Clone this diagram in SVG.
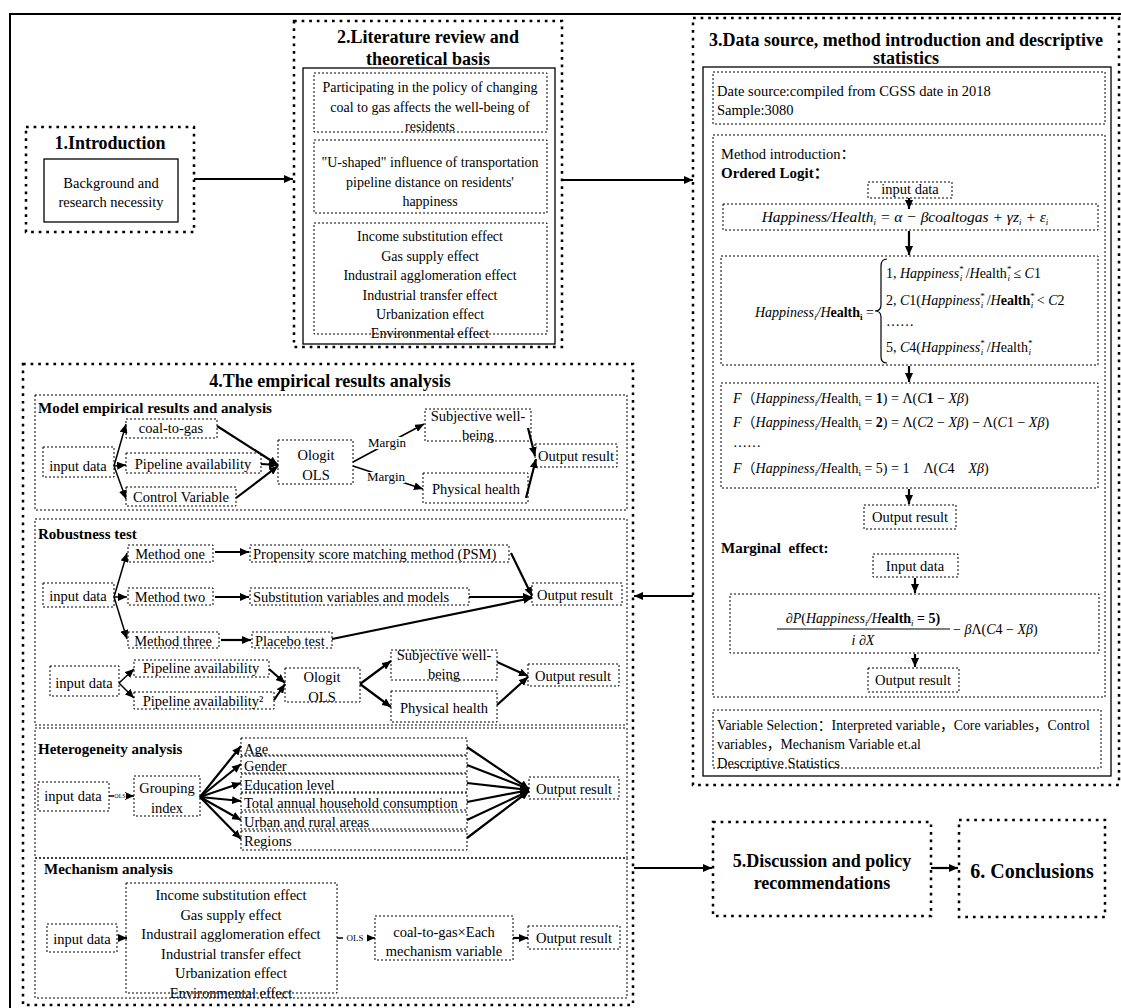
<svg xmlns="http://www.w3.org/2000/svg" width="1121" height="1008" viewBox="0 0 1121 1008">
<defs>
<style>
.sec{fill:none;stroke:#000;stroke-width:2.5;stroke-dasharray:2.7 4.9}
.box{fill:none;stroke:#000;stroke-width:1.3}
.dot{fill:none;stroke:#000;stroke-width:1;stroke-dasharray:2 2}
text{font-family:"Liberation Serif","Times New Roman","Noto Sans CJK SC",serif;font-size:14.5px;fill:#000}
.c{text-anchor:middle}
.e{text-anchor:end}
.h{font-weight:bold;font-size:18px}
.hs{font-weight:bold;font-size:15px}
.s2{font-size:14px}
.i{font-style:italic}
.b{font-weight:bold}
.sm{font-size:9px}
.mg{font-size:13px}
.ar{fill:none;stroke:#000;stroke-width:1.5;marker-end:url(#ah)}
.ab{stroke-width:2.2}
.bg{fill:#fff}
</style>
<marker id="ah" markerUnits="userSpaceOnUse" markerWidth="9" markerHeight="8" refX="9" refY="4" orient="auto"><path d="M0,0 L9,4 L0,8 z" fill="#000"/></marker>
</defs>
<rect width="1121" height="1008" fill="#fff"/>
<path id="frame" d="M10,1012 V14 H1125" fill="none" stroke="#000" stroke-width="2"/>

<g id="sec1">
<rect class="sec" x="26" y="127" width="168" height="105"/>
<text class="h c" x="110" y="149">1.Introduction</text>
<rect class="box" x="44" y="159" width="134" height="63"/>
<text class="c" x="111" y="188">Background and</text>
<text class="c" x="111" y="207">research necessity</text>
</g>

<g id="sec2">
<rect class="sec" x="294" y="21" width="268" height="326"/>
<text class="h c" x="428" y="43">2.Literature review and</text>
<text class="h c" x="428" y="65">theoretical basis</text>
<rect class="box" x="303" y="68" width="252" height="276"/>
<g id="lit-a">
<rect class="dot" x="314" y="73" width="233" height="59"/>
<text class="c s2" x="430" y="92">Participating in the policy of changing</text>
<text class="c s2" x="430" y="112">coal to gas affects the well-being of</text>
<text class="c s2" x="430" y="131">residents</text>
</g>
<g id="lit-b">
<rect class="dot" x="314" y="140" width="233" height="73"/>
<text class="c s2" x="430" y="167">"U-shaped" influence of transportation</text>
<text class="c s2" x="430" y="187">pipeline distance on residents'</text>
<text class="c s2" x="430" y="206">happiness</text>
</g>
<g id="lit-c">
<rect class="dot" x="314" y="223" width="233" height="111"/>
<text class="c s2" x="430" y="241">Income substitution effect</text>
<text class="c s2" x="430" y="261">Gas supply effect</text>
<text class="c s2" x="430" y="280">Industrail agglomeration effect</text>
<text class="c s2" x="430" y="300">Industrial transfer effect</text>
<text class="c s2" x="430" y="319">Urbanization effect</text>
<text class="c s2" x="430" y="338">Environmental effect</text>
</g>
</g>

<g id="sec3">
<rect class="sec" x="693" y="18" width="426" height="767"/>
<text class="h c" x="906" y="46">3.Data source, method introduction and descriptive</text>
<text class="h c" x="906" y="64">statistics</text>
<rect class="box" x="703" y="67" width="408" height="709"/>
<g id="data-source">
<rect class="dot" x="713" y="72" width="392" height="52"/>
<text x="717" y="96">Date source:compiled from CGSS date in 2018</text>
<text x="717" y="115">Sample:3080</text>
</g>
<g id="method">
<rect class="dot" x="713" y="135" width="392" height="562"/>
<text x="721" y="159">Method introduction：</text>
<text class="hs" x="721" y="178">Ordered Logit：</text>
<g id="ol-input"><rect class="dot" x="868" y="182" width="84" height="16"/><text class="c" x="910" y="194">input data</text></g>
<g id="ol-f1"><rect class="dot" x="723" y="204" width="375" height="26"/>
<text class="c i" x="905" y="222" style="font-size:15.5px">Happiness/Health<tspan class="sm" dy="3">i</tspan><tspan dy="-3"> = α − βcoaltogas + γz</tspan><tspan class="sm" dy="3">i</tspan><tspan dy="-3"> + ε</tspan><tspan class="sm" dy="3">i</tspan></text>
</g>
<g id="ol-f2"><rect class="dot" x="721" y="256" width="377" height="109"/>
<text class="e s2" x="874" y="317"><tspan class="i">Happiness</tspan><tspan class="sm i" dy="3">i</tspan><tspan class="i" dy="-3">/H</tspan><tspan class="b">ealth</tspan><tspan class="sm b" dy="3">i</tspan><tspan dy="-3"> =</tspan></text>
<path d="M887,259 Q881,259 881,266 L881,305 Q881,311 875,311 Q881,311 881,317 L881,357 Q881,363 887,363" fill="none" stroke="#000" stroke-width="1.2"/>
<text class="s2" x="886" y="278">1, <tspan class="i">Happiness</tspan><tspan class="sm" dy="-6">*</tspan><tspan class="sm i" dx="-4" dy="9">i</tspan><tspan dy="-3"> /</tspan><tspan class="i">H</tspan>ealth<tspan class="sm" dy="-6">*</tspan><tspan class="sm i" dx="-4" dy="9">i</tspan><tspan dy="-3"> ≤ </tspan><tspan class="i">C</tspan>1</text>
<text class="s2" x="886" y="305">2, <tspan class="i">C</tspan>1(<tspan class="i">Happiness</tspan><tspan class="sm" dy="-6">*</tspan><tspan class="sm i" dx="-4" dy="9">i</tspan><tspan dy="-3"> /</tspan><tspan class="i">H</tspan><tspan class="b">ealth</tspan><tspan class="sm" dy="-6">*</tspan><tspan class="sm i" dx="-4" dy="9">i</tspan><tspan dy="-3"> &lt; </tspan><tspan class="i">C</tspan>2</text>
<text class="s2" x="886" y="326">……</text>
<text class="s2" x="886" y="352">5, <tspan class="i">C</tspan>4(<tspan class="i">Happiness</tspan><tspan class="sm" dy="-6">*</tspan><tspan class="sm i" dx="-4" dy="9">i</tspan><tspan dy="-3"> /</tspan><tspan class="i">H</tspan>ealth<tspan class="sm" dy="-6">*</tspan><tspan class="sm i" dx="-4" dy="9">i</tspan></text>
</g>
<g id="ol-f3"><rect class="dot" x="721" y="383" width="377" height="105"/>
<text class="s2" x="733" y="403"><tspan class="i">F</tspan>（<tspan class="i">Happiness</tspan><tspan class="sm i" dy="3">i</tspan><tspan class="i" dy="-3">/H</tspan>ealth<tspan class="sm" dy="3">i</tspan><tspan dy="-3"> = </tspan><tspan class="b">1</tspan>) = Λ(<tspan class="i">C</tspan><tspan class="b">1</tspan> − <tspan class="i">Xβ</tspan>)</text>
<text class="s2" x="733" y="427"><tspan class="i">F</tspan>（<tspan class="i">Happiness</tspan><tspan class="sm i" dy="3">i</tspan><tspan class="i" dy="-3">/H</tspan>ealth<tspan class="sm" dy="3">i</tspan><tspan dy="-3"> = </tspan><tspan class="b">2</tspan>) = Λ(<tspan class="i">C</tspan>2 − <tspan class="i">Xβ</tspan>) − Λ(<tspan class="i">C</tspan>1 − <tspan class="i">Xβ</tspan>)</text>
<text class="s2" x="733" y="447">……</text>
<text class="s2" x="733" y="473"><tspan class="i">F</tspan>（<tspan class="i">Happiness</tspan><tspan class="sm i" dy="3">i</tspan><tspan class="i" dy="-3">/H</tspan>ealth<tspan class="sm" dy="3">i</tspan><tspan dy="-3"> = 5) = 1&#160;&#160;&#160;&#160;Λ(</tspan><tspan class="i">C</tspan>4&#160;&#160;&#160;&#160;<tspan class="i">Xβ</tspan>)</text>
</g>
<g id="ol-out"><rect class="dot" x="864" y="505" width="92" height="24"/><text class="c" x="910" y="522">Output result</text></g>
<text class="hs" x="721" y="553">Marginal&#160;&#160;effect:</text>
<g id="me-input"><rect class="dot" x="873" y="554" width="85" height="23"/><text class="c" x="915" y="571">Input data</text></g>
<g id="me-f"><rect class="dot" x="730" y="594" width="369" height="59"/>
<text class="c s2" x="863" y="623">∂<tspan class="i">P</tspan>(<tspan class="i">Happiness</tspan><tspan class="sm i" dy="3">i</tspan><tspan class="i" dy="-3">/H</tspan><tspan class="b">ealth</tspan><tspan class="sm i" dy="3">i</tspan><tspan dy="-3" class="b"> = 5)</tspan></text>
<line x1="777" y1="629" x2="950" y2="629" stroke="#000" stroke-width="1.2"/>
<text class="c s2 i" x="863" y="645">i ∂X</text>
<text class="s2" x="953" y="634">− <tspan class="i">β</tspan>Λ(<tspan class="i">C</tspan>4 − <tspan class="i">Xβ</tspan>)</text>
</g>
<g id="me-out"><rect class="dot" x="868" y="668" width="91" height="24"/><text class="c" x="913" y="685">Output result</text></g>
</g>
<g id="variables">
<rect class="dot" x="713" y="710" width="388" height="58"/>
<text x="717" y="730" style="font-size:13.8px">Variable Selection：Interpreted variable，Core variables，Control</text>
<text x="717" y="749" style="font-size:13.8px">variables，Mechanism Variable et.al</text>
<text x="717" y="768">Descriptive Statistics</text>
</g>
</g>

<g id="sec4">
<rect class="sec" x="23" y="364" width="610" height="641"/>
<text class="h c" x="330" y="387">4.The empirical results analysis</text>
<g id="model">
<rect class="dot" x="35" y="395" width="592" height="115"/>
<text class="hs" x="38" y="413">Model empirical results and analysis</text>
<g id="m-input"><rect class="dot" x="43" y="447" width="71" height="30"/><text class="c" x="78" y="471">input data</text></g>
<g id="m-coal"><rect class="dot" x="126" y="419" width="91" height="19"/><text class="c" x="171" y="433">coal-to-gas</text></g>
<g id="m-pipe"><rect class="dot" x="126" y="453" width="135" height="20"/><text class="c" x="193" y="469">Pipeline availability</text></g>
<g id="m-ctrl"><rect class="dot" x="126" y="487" width="110" height="19"/><text class="c" x="181" y="502">Control Variable</text></g>
<g id="m-ologit"><rect class="dot" x="278" y="440" width="75" height="44"/><text class="c" x="316" y="460">Ologit</text><text class="c" x="316" y="480">OLS</text></g>
<g id="m-swb"><rect class="dot" x="425" y="409" width="106" height="32"/><text class="c" x="478" y="421">Subjective well-</text><text class="c" x="478" y="440">being</text></g>
<g id="m-ph"><rect class="dot" x="423" y="473" width="105" height="30"/><text class="c" x="476" y="494">Physical health</text></g>
<g id="m-out"><rect class="dot" x="535" y="444" width="82" height="23"/><text class="c" x="576" y="461">Output result</text></g>
</g>
<g id="robust">
<rect class="dot" x="35" y="519" width="592" height="206"/>
<text class="hs" x="38" y="539">Robustness test</text>
<g id="r-input"><rect class="dot" x="43" y="583" width="71" height="24"/><text class="c" x="78" y="601">input data</text></g>
<g id="r-m1"><rect class="dot" x="128" y="545" width="85" height="17"/><text class="c" x="170" y="559">Method one</text></g>
<g id="r-m2"><rect class="dot" x="128" y="588" width="85" height="17"/><text class="c" x="170" y="602">Method two</text></g>
<g id="r-m3"><rect class="dot" x="128" y="632" width="91" height="16"/><text class="c" x="173" y="646">Method three</text></g>
<g id="r-psm"><rect class="dot" x="250" y="545" width="259" height="17"/><text x="253" y="559">Propensity score matching method (PSM)</text></g>
<g id="r-sub"><rect class="dot" x="250" y="588" width="219" height="17"/><text x="253" y="602">Substitution variables and models</text></g>
<g id="r-placebo"><rect class="dot" x="252" y="632" width="80" height="16"/><text x="255" y="646">Placebo test</text></g>
<g id="r-out"><rect class="dot" x="532" y="583" width="90" height="22"/><text class="c" x="575" y="600">Output result</text></g>
<g id="r-input2"><rect class="dot" x="50" y="666" width="69" height="30"/><text class="c" x="84" y="688">input data</text></g>
<g id="r-pipe"><rect class="dot" x="134" y="660" width="135" height="17"/><text class="c" x="201" y="673">Pipeline availability</text></g>
<g id="r-pipe2"><rect class="dot" x="134" y="692" width="140" height="17"/><text class="c" x="203" y="706">Pipeline availability²</text></g>
<g id="r-ologit"><rect class="dot" x="285" y="668" width="75" height="34"/><text class="c" x="322" y="682">Ologit</text><text class="c" x="322" y="702">OLS</text></g>
<g id="r-swb"><rect class="dot" x="391" y="650" width="106" height="30"/><text class="c" x="444" y="660">Subjective well-</text><text class="c" x="444" y="679">being</text></g>
<g id="r-ph"><rect class="dot" x="391" y="691" width="106" height="31"/><text class="c" x="444" y="713">Physical health</text></g>
<g id="r-out2"><rect class="dot" x="528" y="664" width="91" height="22"/><text class="c" x="573" y="681">Output result</text></g>
</g>
<g id="hetero">
<rect class="dot" x="35" y="728" width="592" height="130"/>
<text class="hs" x="38" y="754">Heterogeneity analysis</text>
<g id="h-input"><rect class="dot" x="38" y="782" width="71" height="29"/><text class="c" x="73" y="801">input data</text></g>
<g id="h-group"><rect class="dot" x="134" y="776" width="66" height="40"/><text class="c" x="167" y="793">Grouping</text><text class="c" x="167" y="813">index</text></g>
<g id="h-age"><rect class="dot" x="241" y="738" width="226" height="17"/><text x="244" y="754">Age</text></g>
<g id="h-gender"><rect class="dot" x="241" y="756" width="226" height="17"/><text x="244" y="771">Gender</text></g>
<g id="h-edu"><rect class="dot" x="241" y="774" width="226" height="18"/><text x="244" y="790">Education level</text></g>
<g id="h-total"><rect class="dot" x="241" y="793" width="226" height="17"/><text x="244" y="808">Total annual household consumption</text></g>
<g id="h-urban"><rect class="dot" x="241" y="812" width="226" height="17"/><text x="244" y="827">Urban and rural areas</text></g>
<g id="h-region"><rect class="dot" x="241" y="831" width="226" height="19"/><text x="244" y="846">Regions</text></g>
<g id="h-out"><rect class="dot" x="529" y="777" width="90" height="22"/><text class="c" x="574" y="794">Output result</text></g>
</g>
<g id="mech">
<rect class="dot" x="35" y="858" width="592" height="140"/>
<text class="hs" x="44" y="874">Mechanism analysis</text>
<g id="k-input"><rect class="dot" x="47" y="924" width="70" height="28"/><text class="c" x="82" y="944">input data</text></g>
<g id="k-effects"><rect class="dot" x="126" y="883" width="211" height="110"/>
<text class="c" x="231" y="900">Income substitution effect</text>
<text class="c" x="231" y="920">Gas supply effect</text>
<text class="c" x="231" y="939">Industrail agglomeration effect</text>
<text class="c" x="231" y="959">Industrial transfer effect</text>
<text class="c" x="231" y="978">Urbanization effect</text>
<text class="c" x="231" y="998">Environmental effect</text></g>
<g id="k-inter"><rect class="dot" x="375" y="916" width="138" height="44"/><text class="c" x="444" y="937">coal-to-gas×Each</text><text class="c" x="444" y="956">mechanism variable</text></g>
<g id="k-out"><rect class="dot" x="528" y="926" width="92" height="23"/><text class="c" x="574" y="943">Output result</text></g>
</g>
</g>

<g id="sec5">
<rect class="sec" x="713" y="822" width="218" height="94"/>
<text class="h c" x="822" y="867">5.Discussion and policy</text>
<text class="h c" x="822" y="889">recommendations</text>
</g>
<g id="sec6">
<rect class="sec" x="959" y="820" width="146" height="97"/>
<text class="h c" x="1032" y="878" style="font-size:20px">6. Conclusions</text>
</g>

<g id="connectors">
<line class="ar ab" x1="194" y1="179" x2="293" y2="179"/>
<line class="ar ab" x1="562" y1="180" x2="693" y2="180"/>
<line class="ar ab" x1="693" y1="596" x2="634" y2="596"/>
<line class="ar ab" x1="634" y1="868" x2="712" y2="868"/>
<line class="ar ab" x1="931" y1="868" x2="958" y2="868"/>
<line class="ar ab" x1="909" y1="198" x2="909" y2="209"/>
<line class="ar ab" x1="909" y1="231" x2="909" y2="255"/>
<line class="ar ab" x1="909" y1="366" x2="909" y2="382"/>
<line class="ar ab" x1="909" y1="489" x2="909" y2="504"/>
<line class="ar ab" x1="915" y1="578" x2="915" y2="593"/>
<line class="ar ab" x1="915" y1="654" x2="915" y2="667"/>
<line class="ar" x1="114" y1="466" x2="126" y2="424"/>
<line class="ar" x1="114" y1="466" x2="126" y2="465"/>
<line class="ar" x1="114" y1="466" x2="126" y2="499"/>
<line class="ar ab" x1="217" y1="426" x2="278" y2="465"/>
<line class="ar ab" x1="261" y1="464" x2="278" y2="465"/>
<line class="ar ab" x1="236" y1="498" x2="278" y2="466"/>
<line class="ar" x1="353" y1="462" x2="424" y2="424"/>
<line class="ar" x1="353" y1="466" x2="423" y2="489"/>
<rect class="bg" x="369" y="437" width="37" height="12"/>
<text class="mg c" x="387" y="447">Margin</text>
<rect class="bg" x="368" y="472" width="37" height="11"/>
<text class="mg c" x="386" y="481">Margin</text>
<line class="ar ab" x1="528" y1="428" x2="535" y2="456"/>
<line class="ar ab" x1="526" y1="498" x2="536" y2="459"/>
<line class="ar" x1="114" y1="597" x2="127" y2="553"/>
<line class="ar" x1="114" y1="597" x2="127" y2="597"/>
<line class="ar" x1="114" y1="597" x2="127" y2="639"/>
<line class="ar ab" x1="215" y1="552" x2="249" y2="552"/>
<line class="ar ab" x1="215" y1="597" x2="249" y2="597"/>
<line class="ar ab" x1="221" y1="640" x2="251" y2="640"/>
<line class="ar ab" x1="511" y1="553" x2="532" y2="596"/>
<line class="ar ab" x1="469" y1="597" x2="532" y2="597"/>
<line class="ar ab" x1="332" y1="639" x2="532" y2="598"/>
<line class="ar" x1="119" y1="683" x2="134" y2="669"/>
<line class="ar" x1="119" y1="683" x2="134" y2="698"/>
<line class="ar ab" x1="269" y1="669" x2="285" y2="683"/>
<line class="ar ab" x1="274" y1="700" x2="285" y2="684"/>
<line class="ar ab" x1="360" y1="684" x2="391" y2="661"/>
<line class="ar ab" x1="360" y1="684" x2="391" y2="707"/>
<line class="ar ab" x1="497" y1="662" x2="528" y2="676"/>
<line class="ar ab" x1="497" y1="705" x2="528" y2="677"/>
<line class="ar" x1="109" y1="796" x2="134" y2="796"/>
<rect class="bg" x="114" y="793" width="12" height="6"/>
<text class="c" x="120" y="798" style="font-size:6px">OLS</text>
<line class="ar ab" x1="200" y1="797" x2="241" y2="746"/>
<line class="ar ab" x1="200" y1="797" x2="241" y2="764"/>
<line class="ar ab" x1="200" y1="797" x2="241" y2="783"/>
<line class="ar ab" x1="200" y1="797" x2="241" y2="801"/>
<line class="ar ab" x1="200" y1="797" x2="241" y2="820"/>
<line class="ar ab" x1="200" y1="797" x2="241" y2="839"/>
<line class="ar ab" x1="467" y1="747" x2="529" y2="789"/>
<line class="ar ab" x1="467" y1="765" x2="529" y2="789"/>
<line class="ar ab" x1="467" y1="783" x2="529" y2="790"/>
<line class="ar ab" x1="467" y1="802" x2="529" y2="790"/>
<line class="ar ab" x1="467" y1="820" x2="529" y2="791"/>
<line class="ar ab" x1="467" y1="838" x2="529" y2="791"/>
<line class="ar ab" x1="118" y1="938" x2="127" y2="938"/>
<line class="ar" x1="337" y1="938" x2="375" y2="938"/>
<rect class="bg" x="343" y="933" width="24" height="10"/>
<text class="c" x="355" y="941" style="font-size:9px">OLS</text>
<line class="ar ab" x1="513" y1="938" x2="528" y2="938"/>
</g>
</svg>
